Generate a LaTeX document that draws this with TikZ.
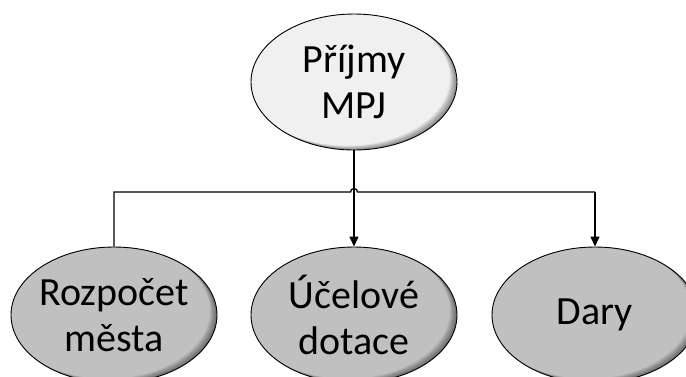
\documentclass[tikz,border=0pt]{standalone}
\usepackage{fontspec}
\setmainfont{Carlito}
\usetikzlibrary{arrows.meta,shapes.geometric}
\definecolor{topfill}{HTML}{F0F0F0}
\definecolor{subfill}{HTML}{C0C0C0}
\tikzset{
  innershade/.style={path picture={
    \foreach \d in {1,...,7}{
      \fill[black,opacity=0.07,even odd rule]
        (path picture bounding box.center) ellipse[x radius=103,y radius=68]
        ([shift={(-\d,-0.6*\d)}]path picture bounding box.center) ellipse[x radius=103,y radius=68];
    }}},
  bubble/.style={ellipse, draw=black, line width=0.9pt, minimum width=206pt, minimum height=136pt,
    inner sep=0pt, innershade},
  topbubble/.style={bubble, fill=topfill},
  subbubble/.style={bubble, fill=subfill},
  label/.style={inner sep=0pt, align=center, font=\fontsize{40}{46}\selectfont},
  conn/.style={line width=1.3pt, draw=black},
  arr/.style={conn, -{Triangle[length=10pt,width=9pt]}}
}
\begin{document}
\begin{tikzpicture}[x=1pt,y=-1pt]
\useasboundingbox (0,0) rectangle (686,376);
\node[topbubble] (top) at (354,82) {};
\node[subbubble] (a) at (114,315) {};
\node[subbubble] (b) at (354,315) {};
\node[subbubble] (c) at (595,315) {};
\node[label] (toptext) at (top) {Příjmy\\MPJ};
\node[label] (atext) at (a) {Rozpočet\\města};
\node[label] (btext) at (b) {Účelové\\dotace};
\node[label] (ctext) at (c) {Dary};
\coordinate (bus) at (354,192);
\coordinate (hopL) at (350.5,192);
\coordinate (hopR) at (357.5,192);
\draw[arr] (top.south) -- (b.north);
\draw[conn] (a.north) -- (a.north |- bus) -- (hopL) arc[start angle=180,end angle=360,radius=3.5] -- (hopR) -- (c.north |- bus);
\draw[arr] (c.north |- bus) -- (c.north);
\end{tikzpicture}
\end{document}
